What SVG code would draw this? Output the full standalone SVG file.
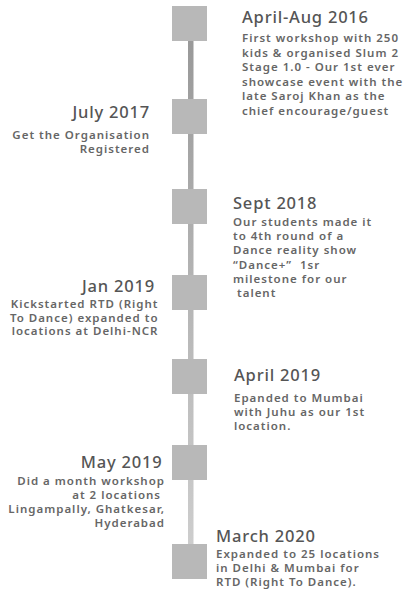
<svg xmlns="http://www.w3.org/2000/svg" width="414" height="594" viewBox="0 0 414 594">
<defs>
<linearGradient id="lineGrad" x1="0" y1="0" x2="0" y2="1">
<stop offset="0" stop-color="#999999"/>
<stop offset="0.5" stop-color="#b5b5b5"/>
<stop offset="1" stop-color="#cdcdcd"/>
</linearGradient>
<style>
.sq{fill:#b8b8b8}
.t{font-family:"Noto Sans","DejaVu Sans",sans-serif;font-size:16.5px;font-weight:500;fill:#555;letter-spacing:0.8px}
.b{font-family:"Noto Sans","DejaVu Sans",sans-serif;font-size:11.5px;font-weight:600;fill:#666;letter-spacing:1px}
.r{text-anchor:end}
</style>
</defs>
<rect width="414" height="594" fill="#ffffff"/>
<g id="connectors">
<rect x="188" y="40" width="5.5" height="505" fill="url(#lineGrad)"/>
</g>
<g id="n1">
<rect class="sq" x="172" y="6" width="35" height="35"/>
<text class="t" x="242" y="23">April-Aug 2016</text>
<text class="b" x="242" y="42">First workshop with 250</text>
<text class="b" x="242" y="56.5">kids &amp; organised Slum 2</text>
<text class="b" x="242" y="71">Stage 1.0 - Our 1st ever</text>
<text class="b" x="242" y="85.5">showcase event with the</text>
<text class="b" x="242" y="100">late Saroj Khan as the</text>
<text class="b" x="242" y="114.5">chief encourage/guest</text>
</g>
<g id="n2">
<rect class="sq" x="172" y="99" width="35" height="35"/>
<text class="t r" x="150" y="118">July 2017</text>
<text class="b r" x="150" y="138.5">Get the Organisation</text>
<text class="b r" x="150" y="152.5">Registered</text>
</g>
<g id="n3">
<rect class="sq" x="172" y="189" width="35" height="35"/>
<text class="t" x="233" y="208.5">Sept 2018</text>
<text class="b" x="233" y="226">Our students made it</text>
<text class="b" x="233" y="240">to 4th round of a</text>
<text class="b" x="233" y="254">Dance reality show</text>
<text class="b" x="233" y="268.5" xml:space="preserve">“Dance+”  1sr</text>
<text class="b" x="233" y="282.5">milestone for our</text>
<text class="b" x="233" y="297" xml:space="preserve"> talent</text>
</g>
<g id="n4">
<rect class="sq" x="172" y="275" width="35" height="35"/>
<text class="t r" x="155" y="292">Jan 2019</text>
<text class="b r" x="158.5" y="308">Kickstarted RTD (Right</text>
<text class="b r" x="158.5" y="321.5">To Dance) expanded to</text>
<text class="b r" x="158.5" y="335">locations at Delhi-NCR</text>
</g>
<g id="n5">
<rect class="sq" x="172" y="359" width="35" height="35"/>
<text class="t" x="234" y="381">April 2019</text>
<text class="b" x="234" y="402">Epanded to Mumbai</text>
<text class="b" x="234" y="416">with Juhu as our 1st</text>
<text class="b" x="234" y="430">location.</text>
</g>
<g id="n6">
<rect class="sq" x="172" y="445" width="35" height="35"/>
<text class="t r" x="162.5" y="467.5">May 2019</text>
<text class="b r" x="165" y="485">Did a month workshop</text>
<text class="b r" x="165" y="499" xml:space="preserve">at 2 locations </text>
<text class="b r" x="165" y="513">Lingampally, Ghatkesar,</text>
<text class="b r" x="165" y="527">Hyderabad</text>
</g>
<g id="n7">
<rect class="sq" x="172" y="544" width="35" height="35"/>
<text class="t" x="216" y="542">March 2020</text>
<text class="b" x="216" y="557.5">Expanded to 25 locations</text>
<text class="b" x="216" y="572">in Delhi &amp; Mumbai for</text>
<text class="b" x="216" y="586">RTD (Right To Dance).</text>
</g>
</svg>
